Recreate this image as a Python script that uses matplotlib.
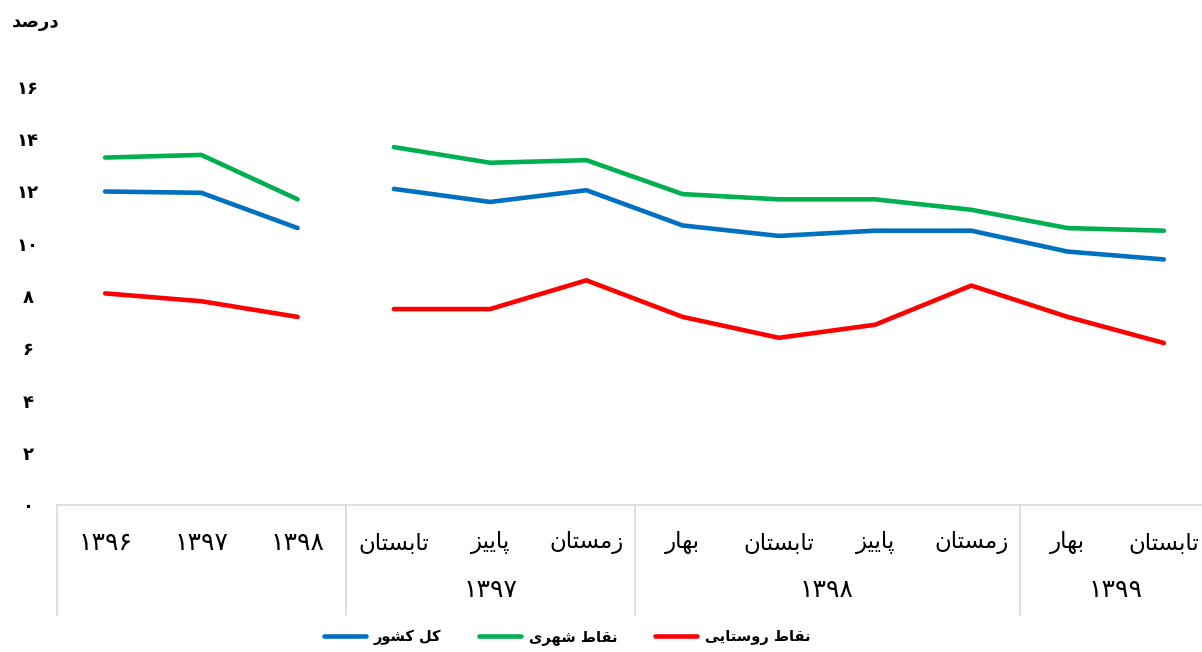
import matplotlib
matplotlib.use("Agg")
import matplotlib.pyplot as plt
from matplotlib.transforms import blended_transform_factory

# ---------- Persian shaping helper (presentation forms, visual order) ----------
FORMS = {
    'ا': ('\uFE8D', '\uFE8E', None, None),
    'ب': ('\uFE8F', '\uFE90', '\uFE91', '\uFE92'),
    'پ': ('\uFB56', '\uFB57', '\uFB58', '\uFB59'),
    'ت': ('\uFE95', '\uFE96', '\uFE97', '\uFE98'),
    'د': ('\uFEA9', '\uFEAA', None, None),
    'ر': ('\uFEAD', '\uFEAE', None, None),
    'ز': ('\uFEAF', '\uFEB0', None, None),
    'س': ('\uFEB1', '\uFEB2', '\uFEB3', '\uFEB4'),
    'ش': ('\uFEB5', '\uFEB6', '\uFEB7', '\uFEB8'),
    'ص': ('\uFEB9', '\uFEBA', '\uFEBB', '\uFEBC'),
    'ط': ('\uFEC1', '\uFEC2', '\uFEC3', '\uFEC4'),
    'ق': ('\uFED5', '\uFED6', '\uFED7', '\uFED8'),
    'ک': ('\uFB8E', '\uFB8F', '\uFB90', '\uFB91'),
    'ل': ('\uFEDD', '\uFEDE', '\uFEDF', '\uFEE0'),
    'م': ('\uFEE1', '\uFEE2', '\uFEE3', '\uFEE4'),
    'ن': ('\uFEE5', '\uFEE6', '\uFEE7', '\uFEE8'),
    'ه': ('\uFEE9', '\uFEEA', '\uFEEB', '\uFEEC'),
    'و': ('\uFEED', '\uFEEE', None, None),
    'ی': ('\uFBFC', '\uFBFD', '\uFBFE', '\uFBFF'),
}


def fa(s):
    out = []
    for i, c in enumerate(s):
        if c not in FORMS:
            out.append(c)
            continue
        iso, fin, ini, med = FORMS[c]
        prev = s[i - 1] if i > 0 else None
        nxt = s[i + 1] if i + 1 < len(s) else None
        jp = prev in FORMS and FORMS[prev][2] is not None
        jn = nxt in FORMS and ini is not None
        if jp and jn:
            out.append(med)
        elif jp:
            out.append(fin)
        elif jn:
            out.append(ini)
        else:
            out.append(iso)
    return ''.join(out)[::-1]


# ---------- data ----------
categories = ['۱۳۹۶', '۱۳۹۷', '۱۳۹۸',
              'تابستان', 'پاییز', 'زمستان',
              'بهار', 'تابستان', 'پاییز', 'زمستان',
              'بهار', 'تابستان']
groups = ['', '۱۳۹۷', '۱۳۹۸', '۱۳۹۹']
group_spans = [(0, 2), (3, 5), (6, 9), (10, 11)]
series_names = ['کل کشور', 'نقاط شهری', 'نقاط روستایی']
total = [12.0, 11.95, 10.6, 12.1, 11.6, 12.05, 10.7, 10.3, 10.5, 10.5, 9.7, 9.4]
urban = [13.3, 13.4, 11.7, 13.7, 13.1, 13.2, 11.9, 11.7, 11.7, 11.3, 10.6, 10.5]
rural = [8.1, 7.8, 7.2, 7.5, 7.5, 8.6, 7.2, 6.4, 6.9, 8.4, 7.2, 6.2]
yticks = [0, 2, 4, 6, 8, 10, 12, 14, 16]
ytick_labels = ['۰', '۲', '۴', '۶', '۸', '۱۰', '۱۲', '۱۴', '۱۶']
ylabel = 'درصد'

colors = ['#0070C0', '#00B050', '#FF0000']
DIGITS = '۰۱۲۳۴۵۶۷۸۹'

plt.rcParams['font.family'] = ['DejaVu Sans']

fig = plt.figure(figsize=(12.02, 6.52), dpi=100)
W, H = 1202, 652
ax = fig.add_axes([57 / W, (H - 505) / H, (1212 - 57) / W, (505 - 87) / H])

x = list(range(len(categories)))
for vals, col, name in zip([total, urban, rural], colors, series_names):
    ax.plot(x[:3], vals[:3], color=col, lw=3.3, solid_capstyle='round',
            solid_joinstyle='round', label=fa(name))
    ax.plot(x[3:], vals[3:], color=col, lw=3.3, solid_capstyle='round',
            solid_joinstyle='round')

ax.set_xlim(-0.5, len(categories) - 0.5)
ax.set_ylim(0, 16)
ax.set_yticks(yticks)
ax.set_yticklabels(ytick_labels, fontsize=13, fontweight='bold')
for t in ax.get_yticklabels():
    t.set_horizontalalignment('center')
ax.tick_params(axis='y', length=0, pad=21)
ax.set_xticks([])
for sp in ['top', 'right', 'left']:
    ax.spines[sp].set_visible(False)
ax.spines['bottom'].set_color('#d9d9d9')
ax.spines['bottom'].set_linewidth(1.2)

trans = blended_transform_factory(ax.transData, ax.transAxes)
ah = 505 - 87
row1 = -(543 - 505) / ah
row2 = -(590 - 505) / ah
bottom = -(615 - 505) / ah

for i, c in enumerate(categories):
    is_num = c[0] in DIGITS
    lab = c if is_num else fa(c)
    ax.text(i, row1, lab, transform=trans, ha='center', va='center',
            fontsize=18 if is_num else 16.5, clip_on=False)

for g, (a, b) in zip(groups, group_spans):
    if g:
        ax.text((a + b) / 2, row2, g, transform=trans, ha='center',
                va='center', fontsize=18, clip_on=False)

for xb in [-0.5, 2.5, 5.5, 9.5]:
    ax.plot([xb, xb], [0, bottom], transform=trans, color='#d9d9d9',
            lw=1.2, clip_on=False)

fig.text(36 / W, 1 - 22 / H, fa(ylabel), ha='center', va='center',
         fontsize=13, fontweight='bold')

fig.legend(loc='center', bbox_to_anchor=(567 / W, 1 - 637 / H), ncol=3,
           frameon=False, handlelength=2.9, handletextpad=0.5,
           columnspacing=2.6, prop={'size': 10.5, 'weight': 'bold'})

fig.savefig('out.png', dpi=100)
